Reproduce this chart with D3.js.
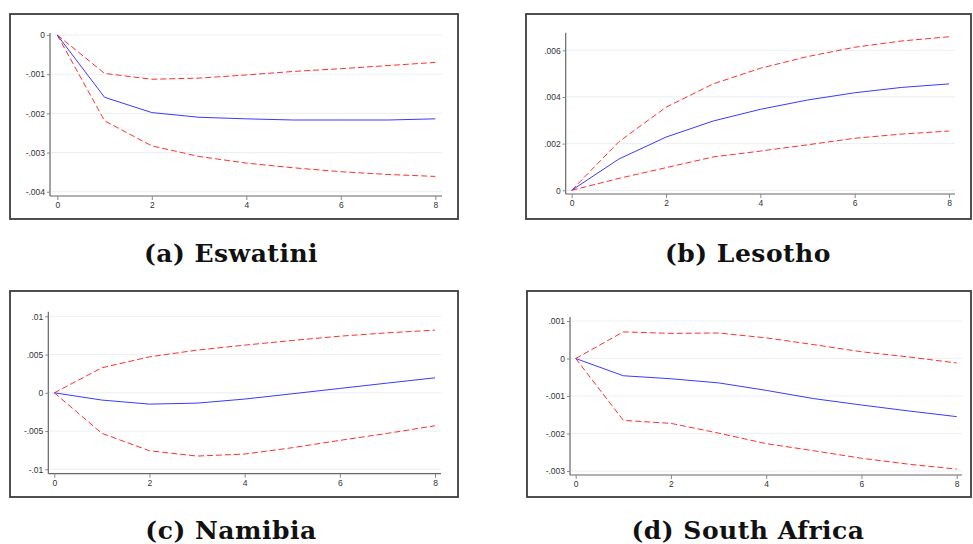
<!DOCTYPE html>
<html>
<head>
<meta charset="utf-8">
<script src="https://cdn.jsdelivr.net/npm/d3@7"></script>
<style>
  body { margin: 0; background: #fff; }
  svg { display: block; }
</style>
</head>
<body>
<script>
// horizon (periods after the shock)
var steps = [0, 1, 2, 3, 4, 5, 6, 7, 8];
var xTicks = [0, 2, 4, 6, 8];

// (a) Eswatini
var eswatiniIrf = [0, -0.00159, -0.00198, -0.0021, -0.00214, -0.00217, -0.00217, -0.00217, -0.00214];
var eswatiniHi  = [0, -0.00098, -0.00113, -0.0011, -0.00102, -0.00093, -0.00086, -0.00078, -0.0007];
var eswatiniLo  = [0, -0.00219, -0.00283, -0.0031, -0.00327, -0.00339, -0.00349, -0.00356, -0.00361];
var eswatiniTicks = [0, -0.001, -0.002, -0.003, -0.004];

// (b) Lesotho
var lesothoIrf = [0, 0.00134, 0.00228, 0.00297, 0.00347, 0.00387, 0.00418, 0.00441, 0.00456];
var lesothoHi  = [0, 0.00208, 0.00356, 0.00456, 0.00523, 0.00573, 0.00613, 0.0064, 0.00658];
var lesothoLo  = [0, 0.00051, 0.00097, 0.00143, 0.00168, 0.00195, 0.00223, 0.00241, 0.00254];
var lesothoTicks = [0, 0.002, 0.004, 0.006];

// (c) Namibia
var namibiaIrf = [0, -0.00095, -0.00148, -0.00135, -0.00082, -0.00013, 0.00057, 0.00127, 0.00196];
var namibiaHi  = [0, 0.00327, 0.0047, 0.00558, 0.00623, 0.00684, 0.0074, 0.00784, 0.00819];
var namibiaLo  = [0, -0.0053, -0.00758, -0.00827, -0.00801, -0.00718, -0.00622, -0.0053, -0.00431];
var namibiaTicks = [0.01, 0.005, 0, -0.005, -0.01];

// (d) South Africa
var safricaIrf = [0, -0.00046, -0.00054, -0.00065, -0.00085, -0.00107, -0.00124, -0.0014, -0.00155];
var safricaHi  = [0, 0.00071, 0.00067, 0.00068, 0.00055, 0.00037, 0.00018, 0.00004, -0.00012];
var safricaLo  = [0, -0.00165, -0.00173, -0.00199, -0.00227, -0.00246, -0.00266, -0.00282, -0.00295];
var safricaTicks = [0.001, 0, -0.001, -0.002, -0.003];

var captions = ["(a) Eswatini", "(b) Lesotho", "(c) Namibia", "(d) South Africa"];

var svg = d3.select("body").append("svg")
    .attr("width", 973)
    .attr("height", 544);

// stata style labels: ".001" / "-.001"
function stataFmt(v) {
    if (Math.abs(v) < 1e-12) return "0";
    var s = String(+v.toPrecision(6));
    return s.replace("0.", ".");
}

// frame: outer box, plot: [left axis x, top, x-axis y, right], xr/yr: scale ranges
var panels = [
    { irf: eswatiniIrf, hi: eswatiniHi, lo: eswatiniLo, ticks: eswatiniTicks,
      frame: [10, 14, 458, 219], plot: [50, 33, 196, 442],
      xr: [57.3, 435.3], yd: [0, -0.004], yr: [35, 191.7], cap: [231, 262] },
    { irf: lesothoIrf, hi: lesothoHi, lo: lesothoLo, ticks: lesothoTicks,
      frame: [526, 14, 971, 219], plot: [565.7, 32.7, 194, 955],
      xr: [571.7, 949], yd: [0, 0.006], yr: [190.3, 50.3], cap: [748, 262] },
    { irf: namibiaIrf, hi: namibiaHi, lo: namibiaLo, ticks: namibiaTicks,
      frame: [10, 291, 458, 497], plot: [48.3, 311.7, 473.7, 441],
      xr: [54.3, 435], yd: [0.01, -0.01], yr: [316.3, 469.3], cap: [231, 539] },
    { irf: safricaIrf, hi: safricaHi, lo: safricaLo, ticks: safricaTicks,
      frame: [527, 291, 971, 497], plot: [570, 317, 475, 962],
      xr: [575.7, 956.7], yd: [0.001, -0.003], yr: [321, 471], cap: [748, 539] }
];

panels.forEach(function (p, i) {
    var g = svg.append("g");
    var x = d3.scaleLinear().domain([0, 8]).range(p.xr);
    var y = d3.scaleLinear().domain(p.yd).range(p.yr);

    // outer graph box
    g.append("rect")
        .attr("x", p.frame[0]).attr("y", p.frame[1])
        .attr("width", p.frame[2] - p.frame[0])
        .attr("height", p.frame[3] - p.frame[1])
        .attr("fill", "#fff")
        .attr("stroke", "#3c3c3c")
        .attr("stroke-width", 1.8);

    // light grid lines
    g.selectAll(".grid").data(p.ticks).join("line")
        .attr("x1", p.plot[0]).attr("x2", p.plot[3])
        .attr("y1", d => y(d)).attr("y2", d => y(d))
        .attr("stroke", "#eaeff2").attr("stroke-width", 1);

    // y axis
    var yAxis = g.append("g")
        .attr("transform", `translate(${p.plot[0]},0)`)
        .call(d3.axisLeft(y).tickValues(p.ticks).tickFormat(stataFmt).tickSize(3).tickPadding(2));
    yAxis.select(".domain").attr("d", `M0,${p.plot[1]}V${p.plot[2]}`);

    // x axis
    var xAxis = g.append("g")
        .attr("transform", `translate(0,${p.plot[2]})`)
        .call(d3.axisBottom(x).tickValues(xTicks).tickSize(4).tickPadding(2));
    xAxis.select(".domain").attr("d", `M${p.plot[0]},0H${p.plot[3]}`);

    [yAxis, xAxis].forEach(function (a) {
        a.select(".domain").attr("stroke", "#666").attr("stroke-width", 1.2);
        a.selectAll(".tick line").attr("stroke", "#888");
        a.selectAll(".tick text")
            .attr("fill", "#333")
            .attr("font-family", "Liberation Sans, Arial, sans-serif")
            .attr("font-size", 8.5);
    });

    var line = d3.line()
        .x((d, j) => x(steps[j]))
        .y(d => y(d));

    // confidence bands
    [p.hi, p.lo].forEach(function (band) {
        g.append("path")
            .attr("d", line(band))
            .attr("fill", "none")
            .attr("stroke", "#ff3030")
            .attr("stroke-width", 1)
            .attr("stroke-dasharray", "6,3");
    });

    // impulse response
    g.append("path")
        .attr("d", line(p.irf))
        .attr("fill", "none")
        .attr("stroke", "#3a3aff")
        .attr("stroke-width", 1);

    // caption
    svg.append("text")
        .attr("x", p.cap[0]).attr("y", p.cap[1])
        .attr("text-anchor", "middle")
        .attr("font-family", "DejaVu Serif, serif")
        .attr("font-weight", "bold")
        .attr("font-size", 25)
        .attr("letter-spacing", 0.5)
        .attr("fill", "#111")
        .text(captions[i]);
});
</script>
</body>
</html>
